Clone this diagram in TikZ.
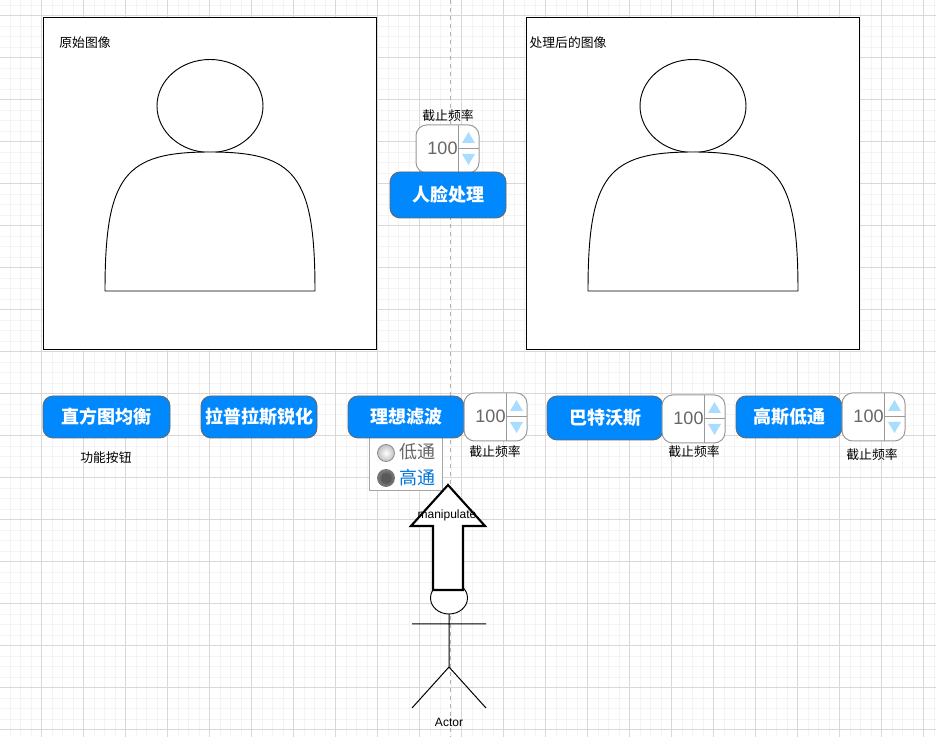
\documentclass[tikz,border=0pt]{standalone}
\usepackage{fontspec}
\setmainfont{Liberation Sans}
\newfontfamily\cjk{Noto Sans CJK SC}
\definecolor{gridminor}{HTML}{F4F4F4}
\definecolor{gridmajor}{HTML}{D8D8D8}
\definecolor{btnblue}{HTML}{0088FF}
\definecolor{spintxt}{HTML}{666666}
\definecolor{spinarrow}{HTML}{AADCFF}
\tikzset{
  panel/.style={draw=black,fill=white,line width=0.75pt},
  outline/.style={draw=black,fill=white,line width=0.7pt},
  btn/.style={draw=black!60,fill=btnblue,rounded corners=7.5pt,line width=0.6pt},
  btntext/.style={text=white,font=\cjk\bfseries\fontsize{13.5}{15}\selectfont,inner sep=0pt},
  small/.style={text=black,font=\cjk\fontsize{9.6}{10}\selectfont,inner sep=0pt},
  latin/.style={text=black,font=\fontsize{9}{10}\selectfont,inner sep=0pt},
  spinbox/.style={draw=black!40,fill=white,rounded corners=8pt,line width=0.75pt},
  spinline/.style={draw=black!40,line width=0.75pt},
  spintext/.style={text=spintxt,font=\fontsize{13.5}{15}\selectfont,inner sep=0pt},
  tri/.style={fill=spinarrow,draw=none},
  radiotext/.style={font=\cjk\fontsize{13.5}{15}\selectfont,inner sep=0pt},
}
% \spinner{name}{left}{top}
\newcommand{\spinner}[3]{%
  \begin{scope}[shift={(#2,#3)}]
    \path[spinbox] (0,0) rectangle (63,48);
    \draw[spinline] (42,0) -- (42,48);
    \draw[spinline] (42,23.5) -- (63,23.5);
    \node[spintext,anchor=center] (#1) at (26.5,23.5) {100};
    \fill[tri] (52.5,7) -- (59,18) -- (46,18) -- cycle;
    \fill[tri] (52.5,40) -- (59,29) -- (46,29) -- cycle;
  \end{scope}}
% \person{offset}
\newcommand{\person}[1]{%
  \begin{scope}[shift={(#1,0)}]
    \draw[outline] (210,106) ellipse (53 and 46.5);
    \draw[outline] (105,291) .. controls (105,175) and (125,152) .. (210,152)
      .. controls (295,152) and (315,175) .. (315,291) -- cycle;
  \end{scope}}
\newcommand{\btnbox}[6]{%
  \path[btn] (#2,#3) rectangle (#4,#5);
  \node[btntext] (#1) at ({(#2+#4)/2},{(#3+#5)/2}) {#6};}
\begin{document}
\begin{tikzpicture}[x=0.75pt,y=-0.75pt]
\useasboundingbox (0,0) rectangle (936,737);
\fill[white] (0,0) rectangle (936,737);
% grid
\foreach \k in {0,...,90} {
  \draw[gridminor,line width=0.75pt] ({-0.3+10.5*\k},0) -- ({-0.3+10.5*\k},737);
  \draw[gridminor,line width=0.75pt] (0,{-5+10.5*\k}) -- (936,{-5+10.5*\k});
}
\foreach \k in {0,...,23} {
  \draw[gridmajor,line width=0.75pt] ({-0.3+42*\k},0) -- ({-0.3+42*\k},737);
  \draw[gridmajor,line width=0.75pt] (0,{-26+42*\k}) -- (936,{-26+42*\k});
}
\draw[black!30,dashed,line width=0.75pt] (450,0) -- (450,737);
% panels
\path[panel] (43,17.3) rectangle (376,350);
\path[panel] (526.6,17.3) rectangle (859,350);
\node[small] (lblA) at (85,43) {原始图像};
\node[small] (lblB) at (568,43) {处理后的图像};
\person{0}
\person{483}
% top controls
\node[small] (cutA) at (448,116) {截止频率};
\spinner{spinA}{416}{125}
\btnbox{face}{390}{172}{506}{218}{人脸处理}
% radio group
\path[draw=black!35,fill=white,line width=0.75pt] (369,436) rectangle (442,491);
\shade[inner color=white,outer color=black!25,draw=black!45,line width=0.6pt] (386,453) circle (8.5);
\shade[inner color=black!80,outer color=black!50,draw=black!55,line width=0.6pt] (386,478) circle (8.5);
\fill[black!65] (386,478) circle (4.5);
\node[radiotext,text=spintxt,anchor=west] (low) at (399,452) {低通};
\node[radiotext,text=btnblue!85!black,anchor=west] (high) at (399,478) {高通};
% buttons row
\btnbox{hist}{43}{396}{170}{438}{直方图均衡}
\node[small] (func) at (106,458) {功能按钮};
\btnbox{lap}{201}{396}{317}{438}{拉普拉斯锐化}
\btnbox{ideal}{348}{396}{464}{438}{理想滤波}
\spinner{spinB}{464}{393}
\node[small] (cutB) at (495,452) {截止频率};
\btnbox{butter}{547}{396}{663}{440}{巴特沃斯}
\spinner{spinC}{662}{395}
\node[small] (cutC) at (694,452) {截止频率};
\btnbox{gauss}{736}{396}{842}{438}{高斯低通}
\spinner{spinD}{842}{393}
\node[small] (cutD) at (872,455) {截止频率};
% actor
\draw[black,line width=0.75pt] (449,614) -- (449,667) (412,624) -- (486,624)
  (412,708) -- (449,667) -- (486,708);
\draw[outline] (449,598) ellipse (18.5 and 16);
\node[latin] (actor) at (449,722) {Actor};
% block arrow
\draw[black,fill=white,line width=1.6pt,line join=miter]
  (448,485) -- (485,526) -- (463,526) -- (463,590) -- (433,590) -- (433,526) -- (411,526) -- cycle;
\node[latin] (manip) at (447,515) {manipulate};
\end{tikzpicture}
\end{document}
